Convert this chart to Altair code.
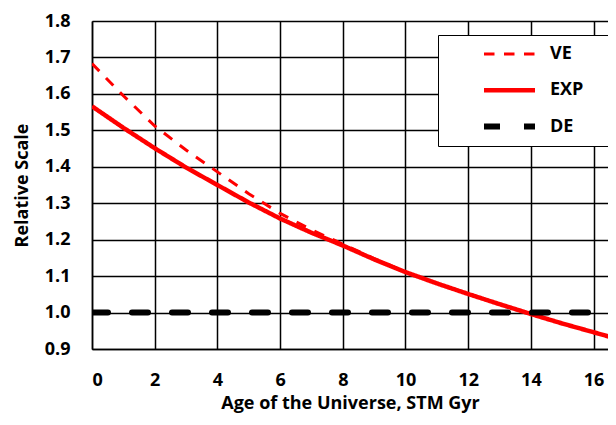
import altair as alt
import pandas as pd

# ---- data ----
exp_x = [0, 1, 2, 3, 4, 5, 6, 7, 8, 9, 10, 11, 12, 13, 14, 15, 16, 16.7]
exp_y = [1.566, 1.507, 1.451, 1.398, 1.350, 1.302, 1.258, 1.219, 1.184, 1.146, 1.111,
         1.080, 1.051, 1.023, 0.996, 0.970, 0.946, 0.929]

ve_x = [0, 1, 2, 3, 4, 5, 6, 7, 8, 9, 10]
ve_y = [1.683, 1.595, 1.512, 1.446, 1.386, 1.326, 1.272, 1.227, 1.188, 1.148, 1.112]

de_x = [0, 16.7]
de_y = [1.0, 1.0]

series_order = ["VE", "EXP", "DE"]
x_ticks = [0, 2, 4, 6, 8, 10, 12, 14, 16]
y_ticks = [0.9, 1.0, 1.1, 1.2, 1.3, 1.4, 1.5, 1.6, 1.7, 1.8]

rows = []
for s, xs, ys in (("VE", ve_x, ve_y), ("EXP", exp_x, exp_y), ("DE", de_x, de_y)):
    for i, (a, b) in enumerate(zip(xs, ys)):
        rows.append({"series": s, "age": a, "scale": b, "order": i})
df = pd.DataFrame(rows)

FONT = "Open Sans"

legend = alt.Legend(
    title=None, orient="none", legendX=346, legendY=14,
    fillColor="white", strokeColor="black", padding=9,
    cornerRadius=0, symbolType="stroke", symbolSize=2601,
    clipHeight=20, rowPadding=16.3, symbolOffset=34, labelOffset=12,
    labelExpr="datum.value + '\u00a0\u00a0\u00a0\u00a0\u200b'", labelLimit=300,
    labelFont=FONT, labelFontSize=18, labelFontWeight="bold", labelColor="black",
)

color = alt.Color("series:N", scale=alt.Scale(domain=series_order, range=["#ff0000", "#ff0000", "#000000"]),
                  legend=legend)
dash = alt.StrokeDash("series:N", scale=alt.Scale(domain=series_order, range=[[10.5, 9.5], [1, 0], [16, 24]]),
                      legend=legend)
width = alt.StrokeWidth("series:N", scale=alt.Scale(type="ordinal", domain=series_order, range=[3, 4.5, 6]),
                        legend=legend)

x = alt.X("age:Q", scale=alt.Scale(domain=[0, 16.46], nice=False, zero=False),
          axis=alt.Axis(values=x_ticks, format="d", title="Age of the Universe, STM Gyr",
                        labelPadding=22, titlePadding=5))
y = alt.Y("scale:Q", scale=alt.Scale(domain=[0.9, 1.8], nice=False, zero=False),
          axis=alt.Axis(values=y_ticks, format=".1f", title="Relative Scale",
                        labelPadding=22, titlePadding=13))

base = alt.Chart(df).encode(x=x, y=y, color=color, strokeDash=dash, strokeWidth=width,
                            order="order:Q", detail="series:N")

main = base.transform_filter(alt.datum.series != "DE").mark_line(clip=True, strokeCap="butt")
de = base.transform_filter(alt.datum.series == "DE").mark_line(clip=True, strokeCap="round")

chart = alt.layer(main, de).properties(
    width=516, height=328,
    autosize=alt.AutoSizeParams(type="none"),
    padding={"left": 84, "top": 13, "right": 0, "bottom": 68},
).configure_view(stroke="transparent").configure_axis(
    grid=True, gridColor="black", gridWidth=1.5, gridOpacity=1,
    domainColor="black", domainWidth=1.5, ticks=False,
    labelFont=FONT, labelFontSize=18, labelFontWeight="bold", labelColor="black",
    titleFont=FONT, titleFontSize=18, titleFontWeight="bold", titleColor="black",
)

chart.save("out.html", embed_options={"renderer": "svg", "actions": False})
